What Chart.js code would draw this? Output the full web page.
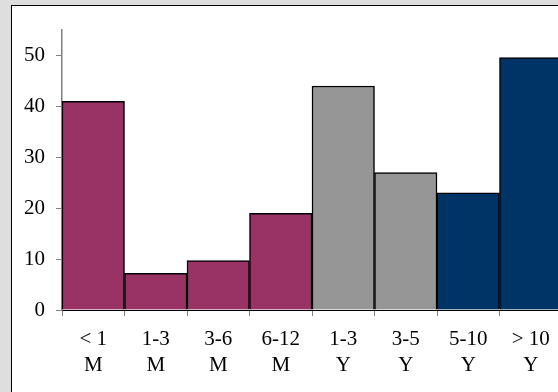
<!DOCTYPE html>
<html>
<head>
<meta charset="utf-8">
<script src="https://cdn.jsdelivr.net/npm/chart.js@4/dist/chart.umd.min.js"></script>
<style>
  html, body { margin: 0; padding: 0; width: 558px; height: 392px; overflow: hidden; background: #dedede; }
  #frame { position: absolute; left: 11px; top: 5px; width: 700px; height: 500px; background: #fff; border: 1px solid #000; }
  #wrap { position: absolute; left: 0; top: 0; width: 562px; height: 392px; }
</style>
</head>
<body>
<div id="frame"></div>
<div id="wrap"><canvas id="c" width="562" height="392"></canvas></div>
<script>
const categories = [["< 1", "M"], ["1-3", "M"], ["3-6", "M"], ["6-12", "M"], ["1-3", "Y"], ["3-5", "Y"], ["5-10", "Y"], ["> 10", "Y"]];
const values = [41, 7.2, 9.7, 19, 44, 27, 23, 49.6];
const barColors = ["#993366", "#993366", "#993366", "#993366", "#969696", "#969696", "#003366", "#003366"];
const yTicks = [0, 10, 20, 30, 40, 50];

const font = { family: "'Liberation Serif', 'Times New Roman', serif", size: 21 };

new Chart(document.getElementById('c'), {
  type: 'bar',
  data: {
    labels: categories,
    datasets: [{
      data: values,
      backgroundColor: barColors,
      borderColor: '#000',
      borderWidth: 1.5,
      barPercentage: 1,
      categoryPercentage: 1
    }]
  },
  options: {
    responsive: false,
    animation: false,
    layout: { padding: { left: 0, right: 0, top: 30, bottom: 0 } },
    plugins: { legend: { display: false }, tooltip: { enabled: false } },
    scales: {
      x: {
        afterFit: (s) => { s.height = 82; },
        grid: { offset: true, drawOnChartArea: false, drawTicks: true, tickLength: 6, color: '#808080' },
        border: { display: true, color: '#000', width: 1 },
        ticks: { color: '#000', font: { ...font, lineHeight: 1.25 }, padding: 10, maxRotation: 0, autoSkip: false }
      },
      y: {
        min: 0, max: 55,
        afterFit: (s) => { s.width = 62; },
        afterBuildTicks: (s) => { s.ticks = yTicks.map(v => ({ value: v })); },
        grid: { drawOnChartArea: false, drawTicks: true, tickLength: 6, color: '#808080' },
        border: { display: true, color: '#808080', width: 1.5 },
        ticks: { color: '#000', font: font, padding: 11 }
      }
    }
  }
});
</script>
</body>
</html>
